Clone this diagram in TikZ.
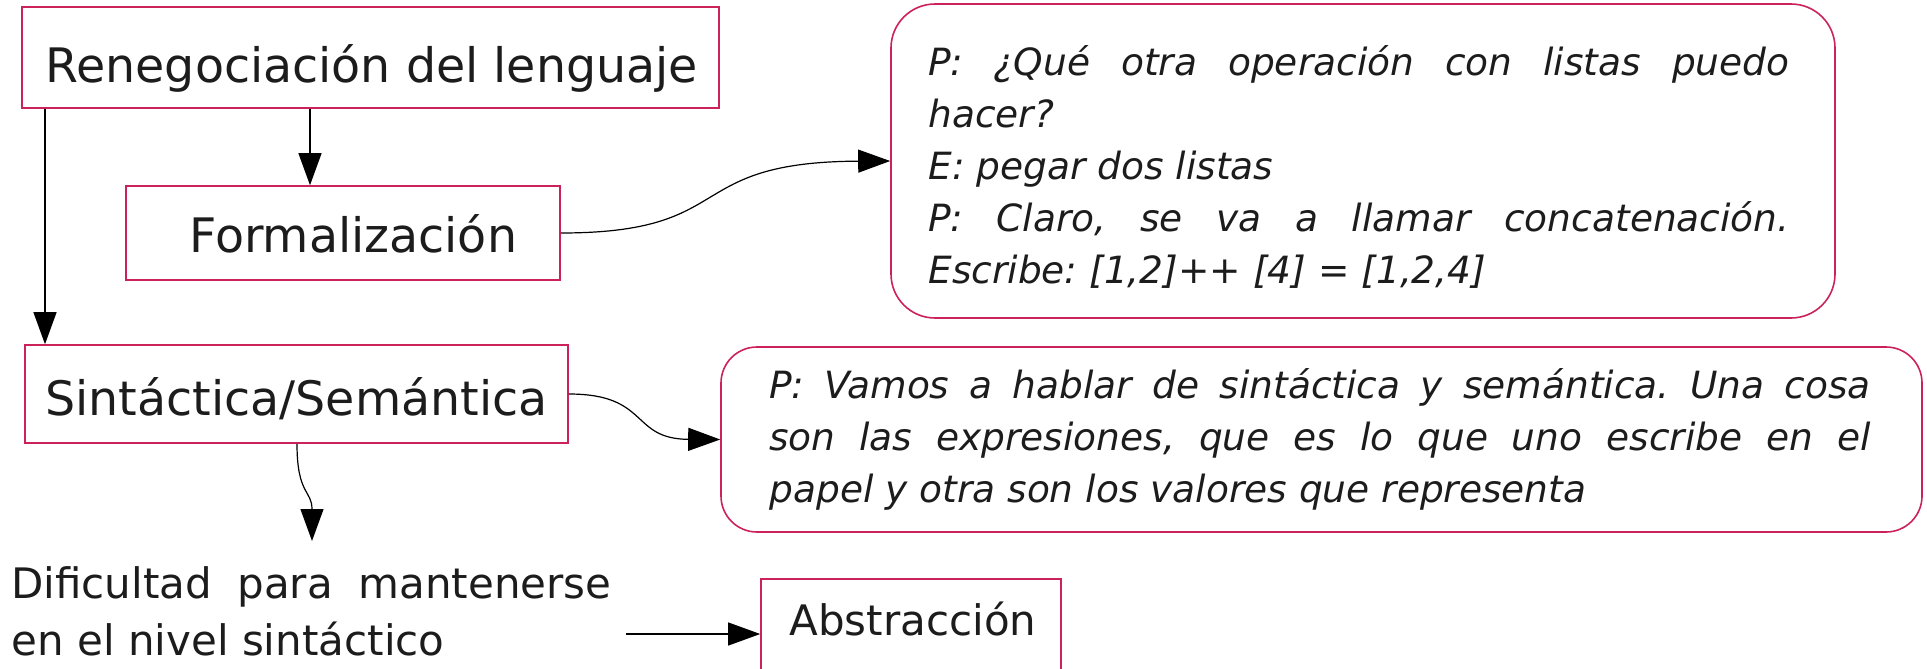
\documentclass[tikz,border=0pt]{standalone}
\usepackage{fontspec}
\setmainfont{DejaVu Sans}
\usetikzlibrary{arrows.meta}
\definecolor{bordercol}{RGB}{204,34,90}
\definecolor{txtcol}{RGB}{28,28,28}
\frenchspacing
\begin{document}
\begin{tikzpicture}[x=0.5pt,y=-0.5pt,
  box/.style={draw=bordercol, line width=0.8pt, inner sep=0pt, fill=none},
  rbox/.style={box, rounded corners=22pt},
  bigtxt/.style={inner sep=0pt, anchor=base west, text=txtcol, font=\fontsize{23.75pt}{28pt}\selectfont},
  midtxt/.style={inner sep=0pt, anchor=base west, text=txtcol, font=\fontsize{21pt}{28.5pt}\selectfont},
  ittxt/.style={inner sep=0pt, anchor=north west, text=txtcol, align=justify, font=\fontsize{18.75pt}{26pt}\selectfont\itshape\frenchspacing},
  arr/.style={-{Triangle[length=16pt,width=11.5pt]}, line width=0.6pt, black}]
\useasboundingbox (0,0) rectangle (1927,669);
% boxes
\node[box, minimum width=348.5pt, minimum height=50.5pt] (reneg) at (370.5,57.5) {};
\node[box, minimum width=217pt, minimum height=47pt] (form) at (343,233) {};
\node[box, minimum width=271.5pt, minimum height=49pt] (sint) at (296.5,394) {};
\node[box, minimum width=150pt, minimum height=55pt] (abs) at (911,634) {};
\node[rbox, minimum width=472pt, minimum height=157pt] (r1) at (1363,161) {};
\node[rbox, rounded corners=18pt, minimum width=600.5pt, minimum height=92.5pt] (r2) at (1321.5,439.5) {};
% texts
\node[bigtxt] (t1) at (45,82) {Renegociación del lenguaje};
\node[bigtxt] (t2) at (189,252) {Formalización};
\node[bigtxt] (t3) at (45,415) {Sintáctica/Semántica};
\node[midtxt] (t5) at (789,635) {Abstracción};
\node[inner sep=0pt, anchor=north west, text=txtcol, align=justify, text width=300pt,
      font=\fontsize{21pt}{28.5pt}\selectfont] (t4) at (11,556)
  {\rule{0pt}{1em}Dificultad para mantenerse\linebreak en el nivel sintáctico};
\node[ittxt, text width=430.5pt] (t6) at (928,37.5)
  {\rule{0pt}{1em}P: ¿Qué otra operación con listas puedo\linebreak hacer?\newline E: pegar dos listas\newline P: Claro, se va a llamar concatenación.\linebreak Escribe: [1,2]++ [4] = [1,2,4]};
\node[ittxt, text width=550.5pt] (t7) at (769,360.5)
  {\rule{0pt}{1em}P: Vamos a hablar de sintáctica y semántica. Una cosa\linebreak son las expresiones, que es lo que uno escribe en el\linebreak papel y otra son los valores que representa};
% helper coordinates
\coordinate (cA) at (310,0);
\coordinate (cB) at (45,0);
\coordinate (cC) at (297,0);
\coordinate (dtop) at (312,541);
\coordinate (dend) at (626,634);
% connectors
\draw[arr] (reneg.south -| cA) -- (form.north -| cA);
\draw[arr] (reneg.south -| cB) -- (sint.north -| cB);
\draw[arr] (form.east) .. controls (740,233) and (680,162) .. (r1.west);
\draw[arr] (sint.east) .. controls (650,394) and (630,439) .. (r2.west);
\draw[arr] (sint.south -| cC) .. controls (297,495) and (312,490) .. (dtop);
\draw[arr] (dend) -- (abs.west);
\end{tikzpicture}
\end{document}
